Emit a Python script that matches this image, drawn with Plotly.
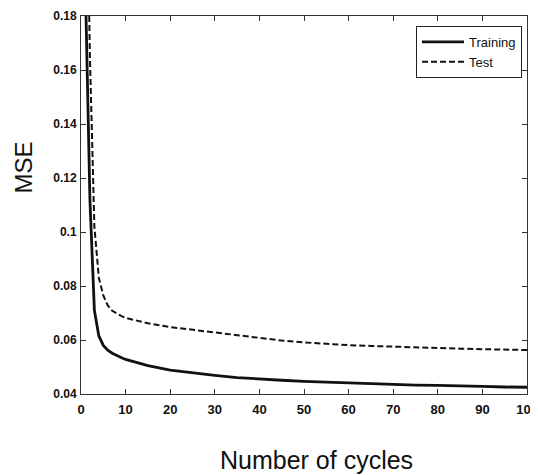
import plotly.graph_objects as go

cycles = [1, 2, 3, 4, 5, 6, 7, 8, 9, 10, 15, 20, 25, 30, 35, 40, 45, 50,
          55, 60, 65, 70, 75, 80, 85, 90, 95, 100]
training_mse = [0.19, 0.112, 0.071, 0.0615, 0.058, 0.0562, 0.0551, 0.0542, 0.0535, 0.0528,
                0.0505, 0.0488, 0.0478, 0.0469, 0.0461, 0.0455, 0.0451, 0.0447,
                0.0444, 0.0441, 0.0437, 0.0435, 0.0433, 0.0432, 0.0431, 0.0428, 0.0426, 0.0425]
test_mse = [0.26, 0.165, 0.102, 0.083, 0.0765, 0.0728, 0.0708, 0.0697, 0.0689, 0.0682,
            0.0662, 0.0648, 0.0637, 0.0628, 0.0618, 0.0608, 0.0598, 0.0591,
            0.0585, 0.0581, 0.0578, 0.0575, 0.0572, 0.0570, 0.0568, 0.0566, 0.0564, 0.0563]

x_ticks = [0, 10, 20, 30, 40, 50, 60, 70, 80, 90, 100]
x_tick_labels = ["0", "10", "20", "30", "40", "50", "60", "70", "80", "90", "100"]
y_ticks = [0.04, 0.06, 0.08, 0.10, 0.12, 0.14, 0.16, 0.18]
y_tick_labels = ["0.04", "0.06", "0.08", "0.1", "0.12", "0.14", "0.16", "0.18"]

fig = go.Figure()
fig.add_trace(go.Scatter(x=cycles, y=training_mse, mode="lines", name="Training",
                         line=dict(color="#111111", width=2.8)))
fig.add_trace(go.Scatter(x=cycles, y=test_mse, mode="lines", name="Test",
                         line=dict(color="#111111", width=2, dash="6px,3px")))

axis_common = dict(showline=True, linecolor="#333333", linewidth=1, mirror="allticks",
                   ticks="inside", ticklen=5, tickcolor="#333333", showgrid=False,
                   zeroline=False, automargin=False)

fig.update_layout(
    width=530, height=467,
    margin=dict(l=73, r=11, t=8, b=81),
    paper_bgcolor="white", plot_bgcolor="white",
    showlegend=True,
    legend=dict(x=0.9888, y=0.9735, xanchor="right", yanchor="top",
                bordercolor="#222222", borderwidth=1, bgcolor="white",
                font=dict(family="Arial", size=13, color="#111111"),
                tracegroupgap=0, itemwidth=42),
    xaxis=dict(range=[0, 100], tickvals=x_ticks, ticktext=x_tick_labels,
               tickfont=dict(family="Arial", size=13, color="#111111", weight="bold"),
               ticklabelstandoff=3, **axis_common),
    yaxis=dict(range=[0.04, 0.18], tickvals=y_ticks, ticktext=y_tick_labels,
               tickfont=dict(family="Arial", size=12, color="#111111", weight="bold"),
               ticklabelstandoff=1, **axis_common),
    annotations=[
        dict(text="MSE", xref="paper", yref="paper", x=-0.1278, y=0.599,
             xanchor="center", yanchor="middle", textangle=-90, showarrow=False,
             font=dict(family="Arial", size=24, color="#111111")),
        dict(text="Number of cycles", xref="paper", yref="paper", x=0.529, y=-0.175,
             xanchor="center", yanchor="middle", showarrow=False,
             font=dict(family="Arial", size=25, color="#111111")),
    ],
)

fig.write_html("out.html")
